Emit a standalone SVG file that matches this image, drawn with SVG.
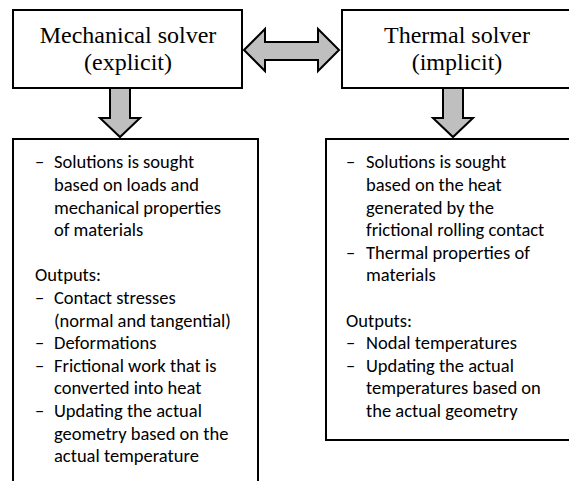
<svg xmlns="http://www.w3.org/2000/svg" width="569" height="481" viewBox="0 0 569 481">
<style>
.box{fill:#fff;stroke:#000;stroke-width:2}
.arr{fill:#bfbfbf;stroke:#000;stroke-width:2;stroke-linejoin:miter}
.title{font-family:"Liberation Serif","Times New Roman",serif;font-size:24px;fill:#000;text-anchor:middle}
.body{font-family:Carlito,"Liberation Sans",Arial,sans-serif;font-size:18.5px;fill:#000}
</style>
<rect width="569" height="481" fill="#fff"/>
<g id="connectors">
<polygon class="arr" points="244,50 265,29 265,42 318,42 318,29 339,50 318,71 318,60 265,60 265,71"/>
<polygon class="arr" points="110,88 130,88 130,118 140,118 120,137 100,118 110,118"/>
<polygon class="arr" points="443,88 463,88 463,118 473,118 453,137 433,118 443,118"/>
</g>
<g id="mech-solver">
<rect class="box" x="13" y="10" width="229" height="78"/>
<text class="title" x="128" y="43">Mechanical solver</text>
<text class="title" x="128" y="70">(explicit)</text>
</g>
<g id="thermal-solver">
<rect class="box" x="342" y="10" width="232" height="78"/>
<text class="title" x="457" y="43">Thermal solver</text>
<text class="title" x="457" y="70">(implicit)</text>
</g>
<g id="mech-details">
<rect class="box" x="13" y="139" width="245" height="350"/>
<g class="body">
<text x="35" y="168.3">–</text><text x="54" y="168.3">Solutions is sought</text>
<text x="54" y="190.9">based on loads and</text>
<text x="54" y="213.5">mechanical properties</text>
<text x="54" y="236.1">of materials</text>
<text x="35" y="281.3">Outputs:</text>
<text x="35" y="303.9">–</text><text x="54" y="303.9">Contact stresses</text>
<text x="54" y="326.5">(normal and tangential)</text>
<text x="35" y="349.1">–</text><text x="54" y="349.1">Deformations</text>
<text x="35" y="371.7">–</text><text x="54" y="371.7">Frictional work that is</text>
<text x="54" y="394.3">converted into heat</text>
<text x="35" y="416.9">–</text><text x="54" y="416.9">Updating the actual</text>
<text x="54" y="439.5">geometry based on the</text>
<text x="54" y="462.1">actual temperature</text>
</g>
</g>
<g id="thermal-details">
<rect class="box" x="326" y="139" width="248" height="301"/>
<g class="body">
<text x="346" y="168.3">–</text><text x="366" y="168.3">Solutions is sought</text>
<text x="366" y="190.9">based on the heat</text>
<text x="366" y="213.5">generated by the</text>
<text x="366" y="236.1">frictional rolling contact</text>
<text x="346" y="258.7">–</text><text x="366" y="258.7">Thermal properties of</text>
<text x="366" y="281.3">materials</text>
<text x="346" y="326.5">Outputs:</text>
<text x="346" y="349.1">–</text><text x="366" y="349.1">Nodal temperatures</text>
<text x="346" y="371.7">–</text><text x="366" y="371.7">Updating the actual</text>
<text x="366" y="394.3">temperatures based on</text>
<text x="366" y="416.9">the actual geometry</text>
</g>
</g>
</svg>
